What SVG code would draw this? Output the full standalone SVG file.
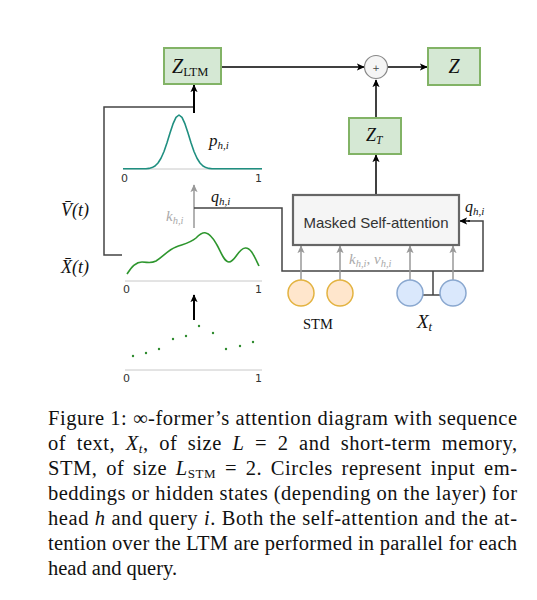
<svg xmlns="http://www.w3.org/2000/svg" width="537" height="600" viewBox="0 0 537 600">
<defs>
<marker id="ab" viewBox="0 0 10 10" refX="9" refY="5" markerWidth="8" markerHeight="8" orient="auto" markerUnits="userSpaceOnUse"><path d="M0,0.5 L10,5 L0,9.5 L2.5,5 z" fill="#000"/></marker>
<marker id="ag" viewBox="0 0 10 10" refX="9" refY="5" markerWidth="8" markerHeight="8" orient="auto" markerUnits="userSpaceOnUse"><path d="M0,0.5 L10,5 L0,9.5 L2.5,5 z" fill="#999"/></marker>
<style>
.gbox{fill:#d5e8d4;stroke:#82b366;stroke-width:2}
.lnb{fill:none;stroke:#000;stroke-width:1.5;marker-end:url(#ab)}
.lng{fill:none;stroke:#999;stroke-width:1.5;marker-end:url(#ag)}
.frame{fill:none;stroke:#444;stroke-width:1.5}
.axis{stroke:#c8c8c8;stroke-width:1}
.tick{font-family:"DejaVu Sans",sans-serif;font-size:11px;fill:#333}
.m{font-family:"Liberation Serif",serif;font-style:italic;fill:#111}
.r{font-family:"Liberation Serif",serif;fill:#111}
.cap{font-family:"Liberation Serif",serif;font-size:20.5px;fill:#111}
.stm{fill:#ffe6cc;stroke:#e3b341;stroke-width:1.5}
.xt{fill:#dae8fc;stroke:#8aa8d0;stroke-width:1.5}
</style>
</defs>

<g id="connectors">
<path class="lnb" d="M221,67 H364"/>
<path class="lnb" d="M388,67 H427"/>
<path class="lnb" d="M376,118 V80"/>
<path class="lnb" d="M376,195 V155"/>
<path class="frame" d="M122,255 H104 V107 H194"/>
<path class="lnb" d="M194,113 V85" style="stroke-width:2"/>
<path class="lng" d="M194,228 V185"/>
<path class="frame" d="M194,208 H282 V271 H483 V221 H468"/>
<path class="lnb" d="M470,221 H460"/>
<path class="frame" d="M433,271 V295 M423,295 H440"/>
<path class="lng" d="M301,280 V246"/>
<path class="lng" d="M340,280 V246"/>
<path class="lng" d="M410,280 V246"/>
<path class="lng" d="M453,280 V246"/>
<path class="lnb" d="M194,320 V295" style="stroke-width:2"/>
</g>

<g id="z-ltm">
<rect class="gbox" x="164" y="48" width="57" height="36"/>
<text x="172" y="73" class="m" font-size="20">Z<tspan class="r" font-style="normal" font-size="12.5" dy="3">LTM</tspan></text>
</g>
<g id="plus">
<circle cx="376" cy="67" r="11.5" fill="#f5f5f5" stroke="#888" stroke-width="1.2"/>
<text x="376" y="70.5" text-anchor="middle" font-family="DejaVu Sans,sans-serif" font-size="9" fill="#444">+</text>
</g>
<g id="z">
<rect class="gbox" x="428" y="48" width="52" height="37"/>
<text x="454" y="73" text-anchor="middle" class="m" font-size="20">Z</text>
</g>
<g id="z-t">
<rect class="gbox" x="349" y="118" width="52" height="36"/>
<text x="366" y="141" class="m" font-size="18">Z<tspan font-size="11.5" dy="3">T</tspan></text>
</g>
<g id="masked-self-attention">
<rect x="293" y="195" width="166" height="50" fill="#f5f5f5" stroke="#666" stroke-width="2.2"/>
<text x="376" y="228" text-anchor="middle" font-family="Liberation Sans,Arial,sans-serif" font-size="15" fill="#333">Masked Self-attention</text>
</g>

<g id="stm">
<circle class="stm" cx="301" cy="293" r="13"/>
<circle class="stm" cx="340" cy="293" r="13"/>
<text x="303" y="329" class="r" font-size="14.5">STM</text>
</g>
<g id="xt">
<circle class="xt" cx="410" cy="293" r="13"/>
<circle class="xt" cx="453" cy="293" r="13"/>
<text x="417" y="328" class="m" font-size="19">X<tspan font-size="12.5" dy="3">t</tspan></text>
</g>

<g id="labels">
<text x="209" y="146" class="m" font-size="17">p<tspan font-size="11" dy="3">h,i</tspan></text>
<text x="211" y="202" class="m" font-size="16">q<tspan font-size="11" dy="3">h,i</tspan></text>
<text x="166" y="221" class="m" font-size="15" style="fill:#aaa">k<tspan font-size="10.5" dy="3">h,i</tspan></text>
<text x="465" y="212" class="m" font-size="16">q<tspan font-size="11" dy="3">h,i</tspan></text>
<text x="349" y="264" class="m" font-size="15" style="fill:#aaa">k<tspan font-size="10.5" dy="3">h,i</tspan><tspan dy="-3" font-style="normal">, </tspan>v<tspan font-size="10.5" dy="3">h,i</tspan></text>
<text x="61" y="216" class="m" font-size="18">V̄(t)</text>
<text x="61" y="273" class="m" font-size="18">X̄(t)</text>
</g>

<g id="ltm-density">
<line class="axis" x1="123" y1="169" x2="262" y2="169"/>
<path d="M123,168.8 H146 L149,168.4 L152,167.6 L155,166 L158,163 L161,158.3 L164,151.5 L167,142.7 L170,133 L173,123.9 L176,117.4 L179,115 L182,117.4 L185,123.9 L188,133 L191,142.7 L194,151.5 L197,158.3 L200,163 L203,166 L206,167.6 L209,168.4 L212,168.8 H262" fill="none" stroke="#1f8f80" stroke-width="1.6" stroke-linejoin="round"/>
<text class="tick" x="121" y="182">0</text>
<text class="tick" x="255" y="182">1</text>
</g>
<g id="ltm-signal">
<line class="axis" x1="125" y1="281" x2="262" y2="281"/>
<path d="M127,274 C132,266 136,262 142,262 C148,262 150,264 156,261 C164,256 168,250 176,247 C184,244 190,243 196,238 C200,234 203,232 206,233 C211,234 214,240 217,245 C221,252 224,262 229,262 C235,262 238,249 245,248 C251,247 255,258 259,266" fill="none" stroke="#2e962e" stroke-width="1.6"/>
<text class="tick" x="123" y="293">0</text>
<text class="tick" x="255" y="293">1</text>
</g>
<g id="ltm-points" fill="#2e8b2e">
<line class="axis" x1="125" y1="370" x2="262" y2="370"/>
<circle cx="133" cy="356" r="1.2"/><circle cx="146" cy="353" r="1.2"/><circle cx="159" cy="349" r="1.2"/><circle cx="173" cy="339" r="1.2"/><circle cx="186" cy="336" r="1.2"/><circle cx="199" cy="326" r="1.2"/><circle cx="213" cy="333" r="1.2"/><circle cx="226" cy="349" r="1.2"/><circle cx="240" cy="346" r="1.2"/><circle cx="253" cy="342" r="1.2"/>
<text class="tick" x="123" y="382">0</text>
<text class="tick" x="255" y="382">1</text>
</g>

<g id="caption">
<text class="cap" x="48" y="425" textLength="469" lengthAdjust="spacing">Figure 1: ∞-former’s attention diagram with sequence</text>
<text class="cap" x="48" y="450" textLength="469" lengthAdjust="spacing" word-spacing="5">of text, <tspan font-style="italic">X</tspan><tspan font-style="italic" font-size="13" dy="3">t</tspan><tspan dy="-3">, of size </tspan><tspan font-style="italic">L</tspan> = 2 and short-term memory,</text>
<text class="cap" x="48" y="475" textLength="469" lengthAdjust="spacing" word-spacing="3">STM, of size <tspan font-style="italic">L</tspan><tspan font-size="13" dy="3">STM</tspan><tspan dy="-3"> = 2.  Circles represent input em-</tspan></text>
<text class="cap" x="48" y="500" textLength="469" lengthAdjust="spacing">beddings or hidden states (depending on the layer) for</text>
<text class="cap" x="48" y="525" textLength="469" lengthAdjust="spacing">head <tspan font-style="italic">h</tspan> and query <tspan font-style="italic">i</tspan>. Both the self-attention and the at-</text>
<text class="cap" x="48" y="550" textLength="469" lengthAdjust="spacing">tention over the LTM are performed in parallel for each</text>
<text class="cap" x="48" y="575">head and query.</text>
</g>
</svg>
